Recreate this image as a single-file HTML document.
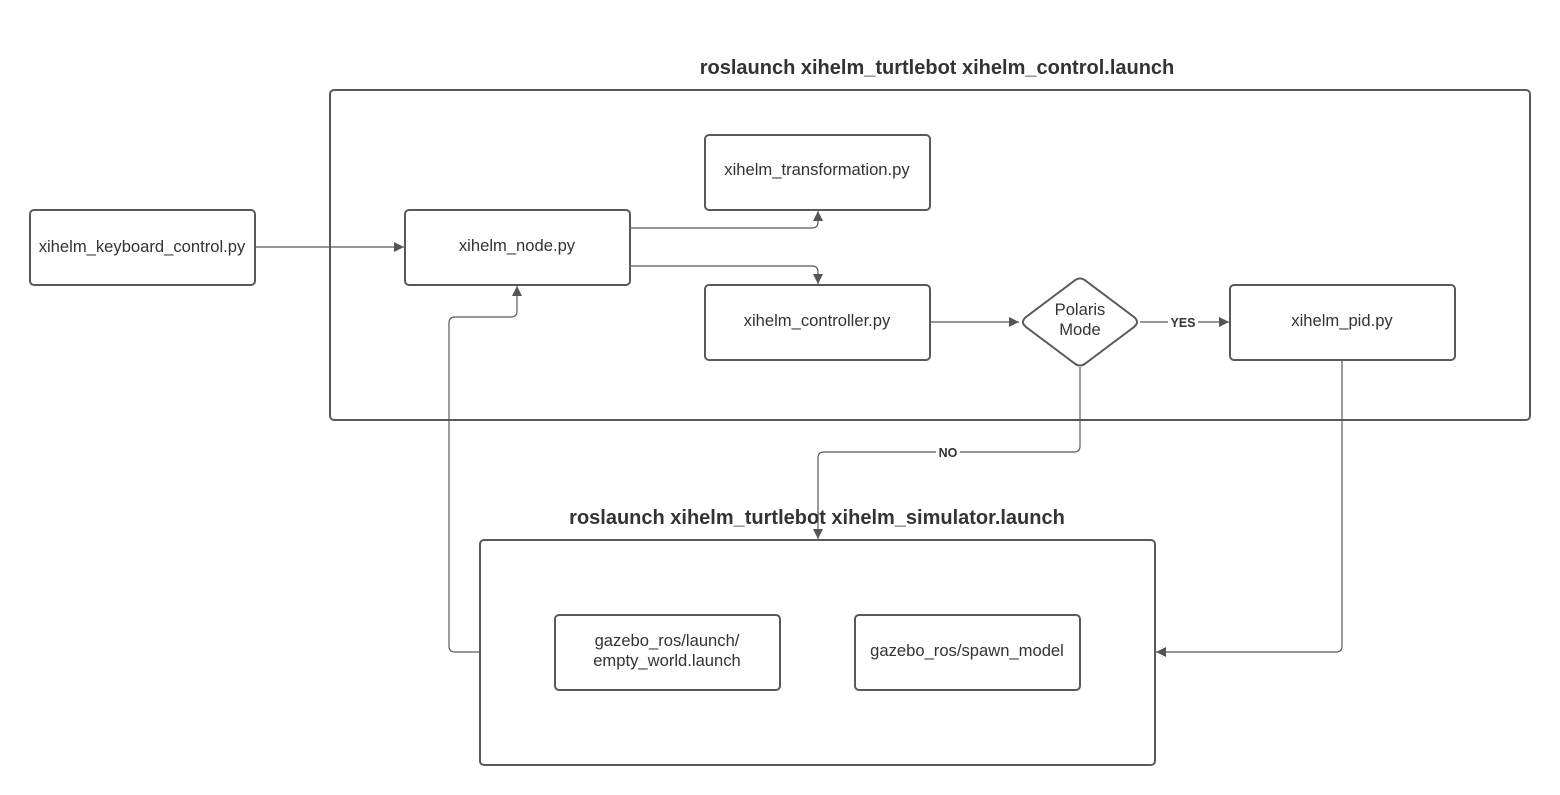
<!DOCTYPE html>
<html><head><meta charset="utf-8"><style>
html,body{margin:0;padding:0;background:#fff;}
svg{display:block;font-family:"Liberation Sans",sans-serif;}
</style></head><body>
<svg width="1560" height="795" viewBox="0 0 1560 795" xmlns="http://www.w3.org/2000/svg">
<defs>
<marker id="a" viewBox="0 0 10 10" refX="10" refY="5" markerWidth="10" markerHeight="10" markerUnits="userSpaceOnUse" orient="auto"><path d="M0,0 L10,5 L0,10 z" fill="#555"/></marker>
</defs>
<rect width="1560" height="795" fill="#fff"/>
<g fill="none" stroke="#595959" stroke-width="2">
<rect x="330" y="90" width="1200" height="330" rx="4"/>
<rect x="480" y="540" width="675" height="225" rx="4"/>
<rect x="30" y="210" width="225" height="75" rx="4"/>
<rect x="405" y="210" width="225" height="75" rx="4"/>
<rect x="705" y="135" width="225" height="75" rx="4"/>
<rect x="705" y="285" width="225" height="75" rx="4"/>
<rect x="1230" y="285" width="225" height="75" rx="4"/>
<rect x="555" y="615" width="225" height="75" rx="4"/>
<rect x="855" y="615" width="225" height="75" rx="4"/>
<path d="M1074,281 Q1080,276 1086,281 L1134,317 Q1140,322 1134,327 L1086,363 Q1080,368 1074,363 L1026,327 Q1020,322 1026,317 Z"/>
</g>
<g fill="none" stroke="#595959" stroke-width="1.2">
<path d="M255,247 H404" marker-end="url(#a)"/>
<path d="M630,228 H812 Q818,228 818,222 V211" marker-end="url(#a)"/>
<path d="M630,266 H812 Q818,266 818,272 V284" marker-end="url(#a)"/>
<path d="M930,322 H1019" marker-end="url(#a)"/>
<path d="M1140,322 H1229" marker-end="url(#a)"/>
<path d="M1080,367 V446 Q1080,452 1074,452 H824 Q818,452 818,458 V539" marker-end="url(#a)"/>
<path d="M1342,360 V646 Q1342,652 1336,652 H1156" marker-end="url(#a)"/>
<path d="M480,652 H455 Q449,652 449,646 V323 Q449,317 455,317 H511 Q517,317 517,311 V286" marker-end="url(#a)"/>
</g>
<rect x="936" y="444" width="24" height="15" fill="#fff"/>
<rect x="1168" y="314" width="30" height="15" fill="#fff"/>
<g fill="#333" font-size="16.6" text-anchor="middle">
<text x="142" y="252">xihelm_keyboard_control.py</text>
<text x="517" y="251">xihelm_node.py</text>
<text x="817" y="175">xihelm_transformation.py</text>
<text x="817" y="326">xihelm_controller.py</text>
<text x="1342" y="326">xihelm_pid.py</text>
<text x="1080" y="315">Polaris</text>
<text x="1080" y="335">Mode</text>
<text x="667" y="646">gazebo_ros/launch/</text>
<text x="667" y="666">empty_world.launch</text>
<text x="967" y="656">gazebo_ros/spawn_model</text>
<text x="937" y="74" font-size="20" font-weight="bold">roslaunch xihelm_turtlebot xihelm_control.launch</text>
<text x="817" y="524" font-size="20" font-weight="bold">roslaunch xihelm_turtlebot xihelm_simulator.launch</text>
<text x="948" y="457" font-size="12.5" font-weight="bold">NO</text>
<text x="1183" y="327" font-size="12.5" font-weight="bold">YES</text>
</g>
</svg>
</body></html>
